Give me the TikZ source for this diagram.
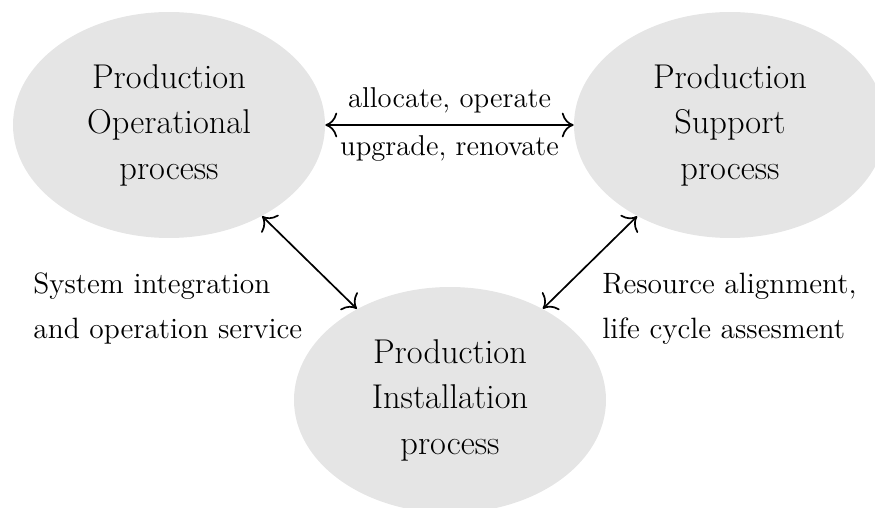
\documentclass[tikz,border=0pt]{standalone}
\usetikzlibrary{shapes.geometric,arrows.meta}
\begin{document}
\begin{tikzpicture}[x=0.5pt,y=-0.5pt,
  proc/.style={ellipse, fill=gray!20, minimum width=156pt, minimum height=113pt, inner sep=0pt, align=center, font=\fontsize{17.2}{22.75}\selectfont},
  lbl/.style={align=left, inner sep=0pt, font=\fontsize{14.35}{22.5}\selectfont},
  sidelbl/.style={lbl, font=\fontsize{14.7}{22.5}\selectfont},
  conn/.style={{To[scale=1.7]}-{To[scale=1.7]}, line width=0.85pt}]
\useasboundingbox (0,0) rectangle (875,508);
\clip (0,0) rectangle (875,508);
\node[proc] (op) at (169,125) {Production\\Operational\\process};
\node[proc] (sup) at (730,125) {Production\\Support\\process};
\node[proc] (inst) at (450,400) {Production\\Installation\\process};
\draw[conn] (op) -- (sup)
  node[midway, lbl, anchor=base, yshift=8.5pt] (l1) {allocate, operate}
  node[midway, lbl, anchor=base, yshift=-15.5pt] (l2) {upgrade, renovate};
\draw[conn] (op) -- (inst);
\draw[conn] (sup) -- (inst);
\node[sidelbl, anchor=west] (l3) at (33,309) {System integration\\and operation service};
\node[sidelbl, anchor=west] (l4) at (602,309) {Resource alignment,\\life cycle assesment};
\end{tikzpicture}
\end{document}
